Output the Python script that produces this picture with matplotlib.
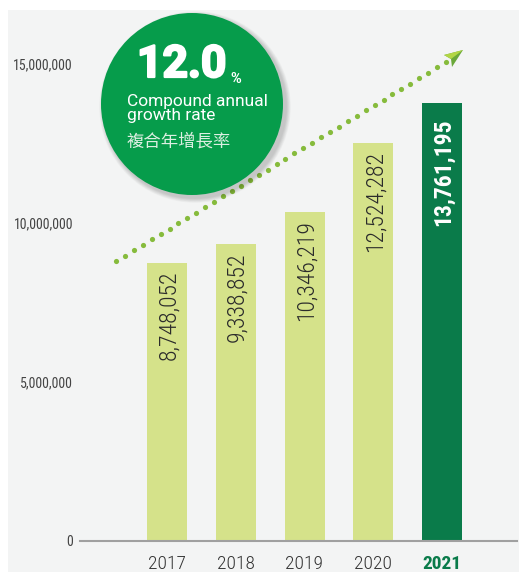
import matplotlib
matplotlib.use("Agg")
import matplotlib.pyplot as plt
from matplotlib.patches import Circle, Rectangle, Polygon
from matplotlib import font_manager as fm
import matplotlib.patheffects as pe
import numpy as np

years = ["2017", "2018", "2019", "2020", "2021"]
values = [8748052, 9338852, 10346219, 12524282, 13761195]
value_labels = ["8,748,052", "9,338,852", "10,346,219", "12,524,282", "13,761,195"]
yticks = [0, 5000000, 10000000, 15000000]
ytick_labels = ["0", "5,000,000", "10,000,000", "15,000,000"]
cagr_value = "12.0"
cagr_en = "Compound annual\ngrowth rate"
cagr_zh = "複合年增長率"

names = {f.name for f in fm.fontManager.ttflist}
cond_family = "Roboto Condensed" if "Roboto Condensed" in names else "Liberation Sans"
COND = [cond_family, "Liberation Sans", "DejaVu Sans"]
plt.rcParams['font.family'] = COND

W, H = 519, 572
fig = plt.figure(figsize=(W / 100, H / 100), dpi=100, facecolor="white")

fig.add_artist(Rectangle((8 / W, 0), 1 - 8 / W, 1 - 10 / H, transform=fig.transFigure,
                         facecolor="#f3f4f4", edgecolor="none", zorder=0))

px_per_unit = 68.75
left_px, right_px = 80, 517
first_center = 167
ax = fig.add_axes([left_px / W, (H - 541) / H, (right_px - left_px) / W, (541 - 10) / H])
ax.set_facecolor("none")
ax.set_xlim(-(first_center - left_px) / px_per_unit, (right_px - first_center) / px_per_unit)
px_per_val = (541 - 64) / 15000000
ax.set_ylim(0, (541 - 10) / px_per_val)

colors = ["#d5e28a"] * 4 + ["#0a7b4a"]
x = np.arange(len(years))
ax.bar(x, values, width=40 / px_per_unit, color=colors, zorder=2)

for i, (v, lab) in enumerate(zip(values, value_labels)):
    last = i == len(values) - 1
    ax.text(i + 0.02, v - (15 if last else 8) / px_per_val, lab, rotation=90, ha="center", va="top",
            fontsize=17, color="white" if last else "#2b2b2b",
            fontweight="bold" if last else "light", zorder=3)

ax.set_yticks(yticks)
ax.set_yticklabels(ytick_labels, fontsize=10, color="#444444")
ax.set_xticks(x)
ax.set_xticklabels(years, fontsize=14, color="#333333", fontweight="light")
lbl = ax.get_xticklabels()[-1]
lbl.set_color("#0a7b4a")
lbl.set_fontweight("bold")
ax.tick_params(axis="both", length=0)
ax.tick_params(axis="y", pad=5)
ax.tick_params(axis="x", pad=10)
for s in ["top", "right", "left"]:
    ax.spines[s].set_visible(False)
ax.spines["bottom"].set_color("#a0a0a0")
ax.spines["bottom"].set_linewidth(1.5)

ov = fig.add_axes([0, 0, 1, 1])
ov.set_xlim(0, W)
ov.set_ylim(H, 0)
ov.axis("off")
ov.set_facecolor("none")

# dotted growth arrow
x0, y0, x1, y1 = 116, 261, 446, 62
n = 38
t = np.linspace(0, 1, n)
ov.scatter(x0 + (x1 - x0) * t, y0 + (y1 - y0) * t, s=14, color="#86bb3c", zorder=3, linewidths=0)
ov.add_patch(Polygon([(463, 50), (444, 55), (451, 59), (452, 67)], closed=True,
                     facecolor="#6aa83a", edgecolor="none", zorder=3))
ov.add_patch(Polygon([(463, 50), (444, 55), (451, 59)], closed=True,
                     facecolor="#b2d645", edgecolor="none", zorder=3))

# circle with soft shadow
cx, cy, r = 192, 104, 91
for k in range(8, 0, -1):
    ov.add_patch(Circle((cx + 3, cy + 3), r + k * 0.6, facecolor="#000000", alpha=0.025,
                        edgecolor="none", zorder=4))
ov.add_patch(Circle((cx, cy), r, facecolor="#069c4b", edgecolor="none", zorder=5))

big = ov.text(137, 77, cagr_value, fontsize=32, fontweight="bold", color="white",
              family=["Roboto", "DejaVu Sans"], ha="left", va="baseline", zorder=6,
              path_effects=[pe.withStroke(linewidth=1.6, foreground="white")])
fig.canvas.draw()
bb = big.get_window_extent()
pct_x = ov.transData.inverted().transform((bb.x1, bb.y0))[0] + 4
ov.text(pct_x, 83, "%", fontsize=10.5, fontweight="bold", color="white",
        family=["Roboto", "DejaVu Sans"], ha="left", va="baseline", zorder=6)
ov.text(127, 94, cagr_en, fontsize=12.5, color="white", ha="left", va="top",
        linespacing=0.95, family=["Roboto", "Liberation Sans", "DejaVu Sans"],
        fontweight="normal", zorder=6)
ov.text(127, 133, cagr_zh, fontsize=12.5, color="#dcefe2", ha="left", va="top",
        family=["Noto Sans CJK TC", "DejaVu Sans"], fontweight="light", zorder=6)

fig.savefig("out.png", dpi=100, facecolor="white")
